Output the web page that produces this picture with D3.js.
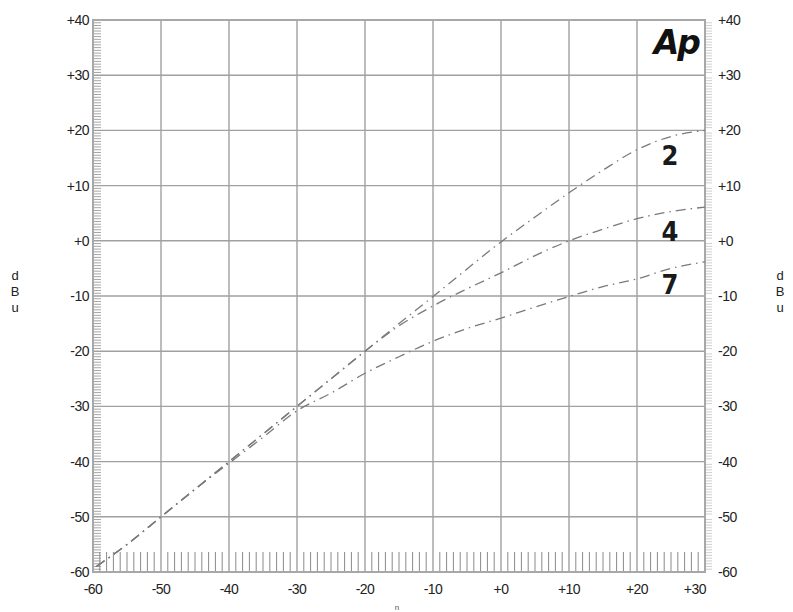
<!DOCTYPE html>
<html>
<head>
<meta charset="utf-8">
<script src="https://cdn.jsdelivr.net/npm/d3@7"></script>
<style>
  body { margin: 0; background: #fff; }
  svg { display: block; font-family: "Liberation Sans", Arial, sans-serif; }
</style>
</head>
<body>
<svg id="chart" width="793" height="612"></svg>
<script>
// input level (dBu) and output for each compression ratio
var inputLevels = [-59.5, -55, -50, -45, -40, -35, -30, -25, -20, -15, -10, -5, 0, 5, 10, 15, 20, 25, 30];
var ratio2 = [-59, -55, -50, -45, -40, -35, -30, -25, -20, -15, -10.1, -5.1, -0.2, 4.3, 8.7, 12.8, 16.5, 18.9, 20];
var ratio4 = [-59, -55, -50, -45, -40, -35, -30, -25, -20, -15.4, -11.8, -8.7, -5.8, -2.7, 0, 2.1, 4, 5.3, 6.1];
var ratio7 = [-59, -55, -50, -45, -40.3, -35.6, -30.8, -27.6, -24, -21, -18.2, -15.9, -14, -12, -10.1, -8.3, -6.9, -5, -3.8];

var xTicks = [-60, -50, -40, -30, -20, -10, 0, 10, 20, 30];
var yTicks = [-60, -50, -40, -30, -20, -10, 0, 10, 20, 30, 40];

var curveLabels = [
  { name: "2", data: ratio2, labelAt: 15.5 },
  { name: "4", data: ratio4, labelAt: 1.8 },
  { name: "7", data: ratio7, labelAt: -7.8 }
];

var svg = d3.select("#chart");
var x = d3.scaleLinear().domain([-60, 30]).range([93, 705]);
var y = d3.scaleLinear().domain([-60, 40]).range([572, 20]);

function fmt(v) { return v >= 0 ? "+" + v : "" + v; }

// grid
svg.append("g").selectAll("line")
  .data(xTicks)
  .enter().append("line")
  .attr("x1", d => x(d)).attr("x2", d => x(d))
  .attr("y1", y(40)).attr("y2", y(-60))
  .attr("stroke", "#a0a0a0").attr("stroke-width", 1.4);

svg.append("g").selectAll("line")
  .data(yTicks)
  .enter().append("line")
  .attr("x1", x(-60)).attr("x2", x(30))
  .attr("y1", d => y(d)).attr("y2", d => y(d))
  .attr("stroke", "#a0a0a0").attr("stroke-width", 1.4);

// small ticks on left and right edges, every 0.5 dB
var minorY = d3.range(-60, 40.01, 0.5).filter(v => v % 10 != 0);
svg.append("g").selectAll("line")
  .data(minorY)
  .enter().append("line")
  .attr("x1", x(-60)).attr("x2", x(-60) + 8)
  .attr("y1", d => y(d)).attr("y2", d => y(d))
  .attr("stroke", "#a5a5a5").attr("stroke-width", 1);

svg.append("g").selectAll("line")
  .data(minorY)
  .enter().append("line")
  .attr("x1", x(30)).attr("x2", x(30) + 7)
  .attr("y1", d => y(d)).attr("y2", d => y(d))
  .attr("stroke", "#cfcfcf").attr("stroke-width", 1);

// tall ticks along the bottom, every 1 dB
var minorX = d3.range(-59, 30, 1).filter(v => v % 10 != 0);
svg.append("g").selectAll("line")
  .data(minorX)
  .enter().append("line")
  .attr("x1", d => x(d)).attr("x2", d => x(d))
  .attr("y1", y(-60)).attr("y2", y(-60) - 20)
  .attr("stroke", "#8a8a8a").attr("stroke-width", 1);

// frame
svg.append("rect")
  .attr("x", x(-60)).attr("y", y(40))
  .attr("width", x(30) - x(-60)).attr("height", y(-60) - y(40))
  .attr("fill", "none").attr("stroke", "#a8a8a8").attr("stroke-width", 2);

// tick labels
svg.append("g").selectAll("text")
  .data(yTicks)
  .enter().append("text")
  .attr("x", 89).attr("y", d => y(d) + 5)
  .attr("text-anchor", "end")
  .attr("font-size", 14).attr("letter-spacing", -0.5).attr("fill", "#222")
  .text(fmt);

svg.append("g").selectAll("text")
  .data(yTicks)
  .enter().append("text")
  .attr("x", 718).attr("y", d => y(d) + 5)
  .attr("font-size", 14).attr("letter-spacing", -0.5).attr("fill", "#222")
  .text(fmt);

svg.append("g").selectAll("text")
  .data(xTicks)
  .enter().append("text")
  .attr("x", d => d == 30 ? x(d) + 1 : x(d))
  .attr("y", 594)
  .attr("text-anchor", d => d == 30 ? "end" : "middle")
  .attr("font-size", 14).attr("letter-spacing", -0.5).attr("fill", "#222")
  .text(fmt);

// stacked unit labels
["d", "B", "u"].forEach(function (ch, i) {
  svg.append("text").attr("x", 15).attr("y", 280 + i * 16)
    .attr("text-anchor", "middle").attr("font-size", 13).attr("fill", "#222").text(ch);
  svg.append("text").attr("x", 780).attr("y", 280 + i * 16)
    .attr("text-anchor", "middle").attr("font-size", 13).attr("fill", "#222").text(ch);
});
svg.append("text").attr("x", 397).attr("y", 610)
  .attr("text-anchor", "middle").attr("font-size", 8).attr("fill", "#555").text("n");

// curves
var line = d3.line()
  .x((d, i) => x(inputLevels[i]))
  .y(d => y(d))
  .curve(d3.curveMonotoneX);

svg.append("g").selectAll("path")
  .data(curveLabels)
  .enter().append("path")
  .attr("d", d => line(d.data))
  .attr("fill", "none")
  .attr("stroke", "#7a7a7a")
  .attr("stroke-width", 1.3)
  .attr("stroke-dasharray", "10,5,1.5,5");

// ratio labels
svg.append("g").selectAll("text")
  .data(curveLabels)
  .enter().append("text")
  .attr("x", 670)
  .attr("y", d => y(d.labelAt) + 10)
  .attr("text-anchor", "middle")
  .attr("font-family", "'DejaVu Sans Condensed', 'DejaVu Sans', sans-serif")
  .attr("font-weight", "bold")
  .attr("font-size", 27)
  .attr("fill", "#1a1a1a")
  .text(d => d.name);

// logo
svg.append("text")
  .attr("x", 699).attr("y", 54)
  .attr("text-anchor", "end")
  .attr("font-family", "'DejaVu Sans', sans-serif")
  .attr("font-weight", "bold")
  .attr("font-style", "italic")
  .attr("font-size", 33)
  .attr("letter-spacing", -2)
  .attr("fill", "#111")
  .text("Ap");
</script>
</body>
</html>
